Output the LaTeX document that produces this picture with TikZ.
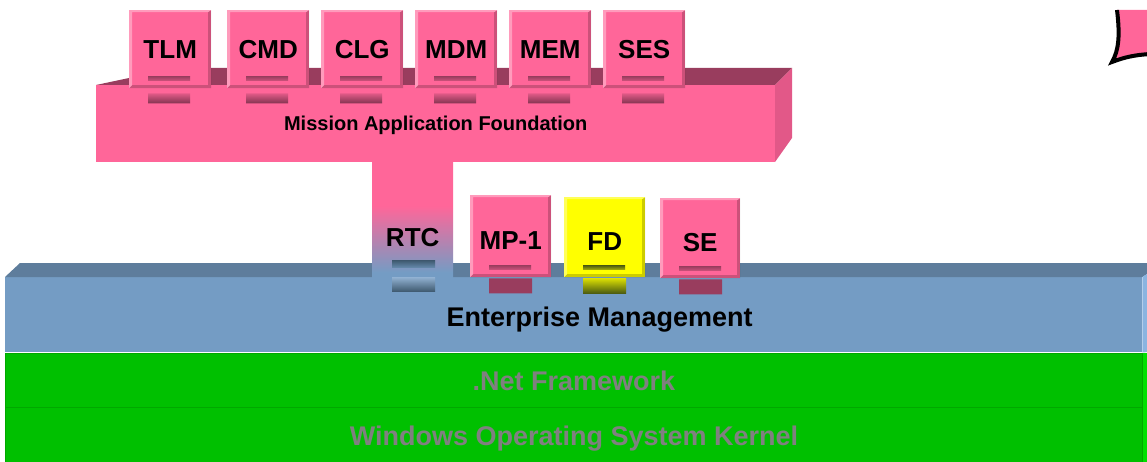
\documentclass[tikz,border=0pt]{standalone}
\usepackage{fontspec}
\setsansfont{Liberation Sans}
\usetikzlibrary{positioning}
\definecolor{mafpink}{HTML}{FF6699}
\definecolor{mafdark}{HTML}{993D5E}
\definecolor{mafside}{HTML}{E25888}
\definecolor{emblue}{HTML}{749CC4}
\definecolor{emtop}{HTML}{5E7D9C}
\definecolor{emside}{HTML}{8AB4E0}
\definecolor{rtcdark}{HTML}{3F5A70}
\definecolor{osgreen}{HTML}{00C000}
\definecolor{osside}{HTML}{00E000}
\definecolor{osline}{HTML}{00A800}
\definecolor{osgray}{HTML}{808080}
\definecolor{fdyellow}{HTML}{FFFF00}
\definecolor{fddark}{HTML}{4A5A10}
\pgfdeclareverticalshading{rtcshade}{100bp}{color(0bp)=(emblue); color(27bp)=(emblue); color(56bp)=(mafpink); color(100bp)=(mafpink)}
\tikzset{
  modbox/.style 2 args={fill=#1,minimum width=82pt,minimum height=78pt,inner sep=0pt,
    anchor=north west,font=\sffamily\bfseries\fontsize{26}{28}\selectfont,
    path picture={
      \coordinate (pp-nw) at (path picture bounding box.north west);
      \coordinate (pp-ne) at (path picture bounding box.north east);
      \coordinate (pp-sw) at (path picture bounding box.south west);
      \coordinate (pp-se) at (path picture bounding box.south east);
      \fill[white,opacity=.35] (pp-sw) -- (pp-nw) -- (pp-ne) -- ([shift={(-3pt,-2pt)}]pp-ne)
        -- ([shift={(3pt,-2pt)}]pp-nw) -- ([shift={(3pt,3pt)}]pp-sw) -- cycle;
      \fill[black,opacity=.2] (pp-sw) -- (pp-se) -- (pp-ne) -- ([shift={(-3pt,-2pt)}]pp-ne)
        -- ([shift={(-3pt,3pt)}]pp-se) -- ([shift={(3pt,3pt)}]pp-sw) -- cycle;
      \shade[top color=#2,bottom color=#2!55!#1] ([shift={(19pt,8pt)}]pp-sw) rectangle ([shift={(61pt,12pt)}]pp-sw);
    }},
  layer/.style={minimum width=1137pt,inner sep=0pt,anchor=north west,
    font=\sffamily\bfseries\fontsize{27}{30}\selectfont},
}

\begin{document}
\begin{tikzpicture}[x=1pt,y=-1pt,
  oslayer/.style={layer,fill=osgreen,draw=osline,line width=1pt,text=osgray,text depth=0pt},
  stem/.style={shading=rtcshade,minimum width=81pt,minimum height=115pt,inner sep=0pt,anchor=north west},
  laytext/.style={font=\sffamily\bfseries\fontsize{27}{30}\selectfont},
  lowbox/.style={minimum width=81pt,minimum height=80pt,text height=26pt,text depth=0pt}
]
\useasboundingbox (0,0) rectangle (1147,462);

% operating system and framework
\node[oslayer,minimum height=56pt] (win) at (5,407) {Windows Operating System Kernel};
\node[oslayer,minimum height=54pt] (net) at (5,353) {.Net Framework};
\fill[osside] (win.north east) rectangle (1150,462);
\fill[osside] (net.north east) rectangle (1150,407);

% enterprise management
\node[layer,fill=emblue,minimum height=75pt,
  label={[laytext,xshift=26pt,yshift=-5pt]center:Enterprise Management}] (em) at (5,277) {};
\fill[emtop] (em.north west) -- (20,263) -- (1150,263) -- (1150,272) -- (em.north east) -- cycle;
\fill[emside] (em.north east) -- (1150,272) -- (1150,352) -- (em.south east) -- cycle;

% rtc stem
\node[stem,label={[laytext,font=\sffamily\bfseries\fontsize{26}{28}\selectfont,yshift=-18pt]center:RTC}] (rtc) at (372,162) {};
\shade[top color=rtcdark,bottom color=emblue!70!rtcdark] ([shift={(20pt,10pt)}]rtc.south west) rectangle ([shift={(63pt,17pt)}]rtc.south west);
\shade[top color=emblue!80!white,bottom color=rtcdark] ([shift={(20pt,0pt)}]rtc.south west) rectangle ([shift={(63pt,-14pt)}]rtc.south west);

% modules on enterprise management
\node[modbox={mafpink}{mafdark},lowbox,minimum height=82pt] (mp) at (470,195) {MP-1};
\node[modbox={fdyellow}{fddark},lowbox] (fd) at (564,197) {FD};
\node[modbox={mafpink}{mafdark},lowbox,minimum width=80pt] (se) at (660,198) {SE};
\shade[top color=mafdark,middle color=mafpink!85!mafdark,bottom color=mafdark]
  ([shift={(19pt,-1pt)}]mp.south west) rectangle ([shift={(62pt,-16pt)}]mp.south west)
  ([shift={(19pt,-1pt)}]se.south west) rectangle ([shift={(62pt,-16pt)}]se.south west);
\shade[top color=fdyellow!80!fddark,middle color=fdyellow!70,bottom color=fddark]
  ([shift={(19pt,-1pt)}]fd.south west) rectangle ([shift={(62pt,-16pt)}]fd.south west);

% mission application foundation
\fill[mafdark] (96,85) -- (129,78) -- (129,68) -- (792,68) -- (775,85) -- cycle;
\fill[mafside] (775,85) -- (792,68) -- (792,138) -- (775,162) -- cycle;
\node[fill=mafpink,minimum width=679pt,minimum height=77pt,inner sep=0pt,anchor=north west,text depth=0pt,
  font=\sffamily\bfseries\fontsize{20}{22}\selectfont] (maf) at (96,85) {Mission Application Foundation};

\node[modbox={mafpink}{mafdark}] (tlm) at (129,10) {TLM};
\node[modbox={mafpink}{mafdark}] (cmd) at (227,10) {CMD};
\node[modbox={mafpink}{mafdark}] (clg) at (321,10) {CLG};
\node[modbox={mafpink}{mafdark}] (mdm) at (415,10) {MDM};
\node[modbox={mafpink}{mafdark}] (mem) at (509,10) {MEM};
\node[modbox={mafpink}{mafdark}] (ses) at (603,10) {SES};
\shade[top color=mafpink!70!mafdark,bottom color=mafdark!85!black]
  ([shift={(19pt,-5pt)}]tlm.south west) rectangle ([shift={(61pt,-15pt)}]tlm.south west)
  ([shift={(19pt,-5pt)}]cmd.south west) rectangle ([shift={(61pt,-15pt)}]cmd.south west)
  ([shift={(19pt,-5pt)}]clg.south west) rectangle ([shift={(61pt,-15pt)}]clg.south west)
  ([shift={(19pt,-5pt)}]mdm.south west) rectangle ([shift={(61pt,-15pt)}]mdm.south west)
  ([shift={(19pt,-5pt)}]mem.south west) rectangle ([shift={(61pt,-15pt)}]mem.south west)
  ([shift={(19pt,-5pt)}]ses.south west) rectangle ([shift={(61pt,-15pt)}]ses.south west);

% corner of the next slide shape
\begin{scope}
\clip (0,0) rectangle (1147,462);
\fill[mafpink] (1117,10) .. controls (1120,35) and (1119,50) .. (1112,62)
  .. controls (1125,57) and (1135,55) .. (1150,54) -- (1150,10) -- cycle;
\draw[line width=4pt] (1117,10) .. controls (1120,35) and (1119,50) .. (1112,62)
  .. controls (1125,57) and (1135,55) .. (1150,54);
\end{scope}
\end{tikzpicture}
\end{document}
